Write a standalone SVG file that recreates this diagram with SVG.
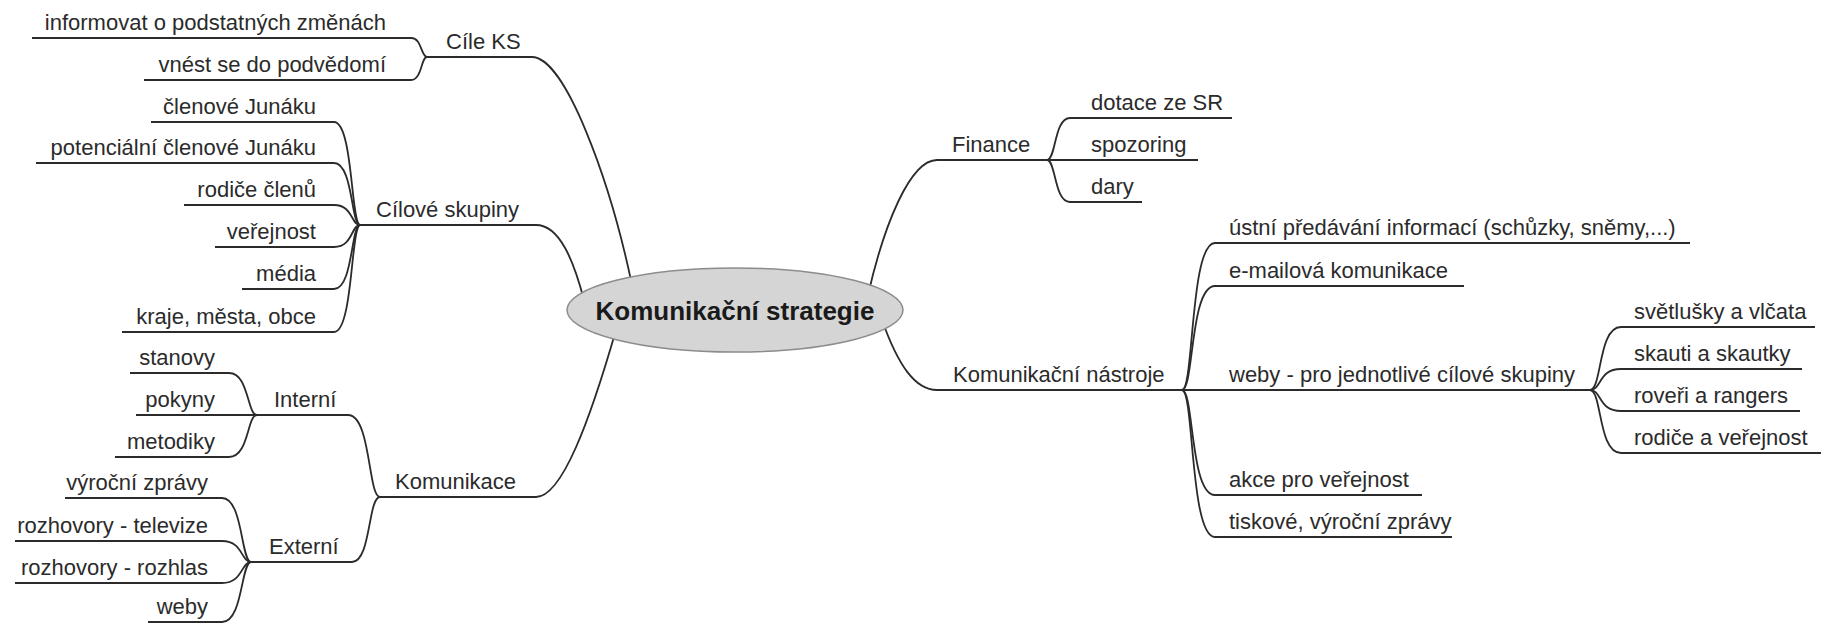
<svg xmlns="http://www.w3.org/2000/svg" width="1827" height="624" viewBox="0 0 1827 624">
  <style>
    .t { font-family: "Liberation Sans", Arial, sans-serif; font-size: 22px; fill: #2b2b2b; }
    .e { text-anchor: end; }
    .u { stroke: #2b2b2b; stroke-width: 2; fill: none; }
    .c { stroke: #2b2b2b; stroke-width: 1.8; fill: none; }
    .root { font-family: "Liberation Sans", Arial, sans-serif; font-size: 26px; font-weight: bold; fill: #1a1a1a; text-anchor: middle; }
  </style>
  <rect width="1827" height="624" fill="#ffffff"/>

  <!-- connectors: each runs from a branch junction out to the start of a child's underline -->
  <g id="connectors">
    <!-- root to main branches -->
    <path class="c" d="M 532 57 C 565 57, 610 180, 632 285"/>
    <path class="c" d="M 536 225 C 560 225, 574 262, 584 300"/>
    <path class="c" d="M 536 497 C 562 497, 590 420, 616 330"/>
    <path class="c" d="M 937 160 C 910 160, 884 225, 868 295"/>
    <path class="c" d="M 937 390 C 915 390, 898 365, 882 320"/>
    <!-- Cíle KS -->
    <path class="c" d="M 427 57 C 421 57, 422 38, 411 38"/>
    <path class="c" d="M 427 57 C 421 57, 422 80, 411 80"/>
    <!-- Cílové skupiny -->
    <path class="c" d="M 360 225 C 351 225, 353 122, 334 122"/>
    <path class="c" d="M 360 225 C 351 225, 353 163, 334 163"/>
    <path class="c" d="M 360 225 C 351 225, 353 205, 334 205"/>
    <path class="c" d="M 360 225 C 351 225, 353 247, 334 247"/>
    <path class="c" d="M 360 225 C 351 225, 353 289, 334 289"/>
    <path class="c" d="M 360 225 C 351 225, 353 332, 334 332"/>
    <!-- Komunikace -->
    <path class="c" d="M 380 497 C 368 497, 371 415, 348 415"/>
    <path class="c" d="M 380 497 C 368 497, 371 562, 352 562"/>
    <!-- Interní -->
    <path class="c" d="M 257 415 C 247 415, 249 373, 229 373"/>
    <path class="c" d="M 257 415 C 247 415, 249 457, 229 457"/>
    <!-- Externí -->
    <path class="c" d="M 251 562 C 241 562, 243 498, 222 498"/>
    <path class="c" d="M 251 562 C 241 562, 243 541, 222 541"/>
    <path class="c" d="M 251 562 C 241 562, 243 583, 222 583"/>
    <path class="c" d="M 251 562 C 241 562, 243 622, 222 622"/>
    <!-- Finance -->
    <path class="c" d="M 1047 160 C 1056 160, 1054 118, 1070 118"/>
    <path class="c" d="M 1047 160 C 1056 160, 1054 202, 1070 202"/>
    <!-- Komunikační nástroje -->
    <path class="c" d="M 1182 390 C 1194 390, 1190 243, 1215 243"/>
    <path class="c" d="M 1182 390 C 1194 390, 1190 286, 1215 286"/>
    <path class="c" d="M 1182 390 C 1194 390, 1190 495, 1215 495"/>
    <path class="c" d="M 1182 390 C 1194 390, 1190 537, 1215 537"/>
    <!-- weby -->
    <path class="c" d="M 1590 390 C 1602 390, 1598 327, 1621 327"/>
    <path class="c" d="M 1590 390 C 1602 390, 1598 369, 1621 369"/>
    <path class="c" d="M 1590 390 C 1602 390, 1598 411, 1621 411"/>
    <path class="c" d="M 1590 390 C 1602 390, 1598 453, 1621 453"/>
  </g>

  <!-- central topic -->
  <g id="root">
    <ellipse cx="735" cy="310" rx="168" ry="42" fill="#d5d5d5" stroke="#8c8c8c" stroke-width="1.5"/>
    <text class="root" x="735" y="320">Komunikační strategie</text>
  </g>

  <!-- left side -->
  <g id="cile-ks">
    <line class="u" x1="427" y1="57" x2="532" y2="57"/>
    <text class="t" x="446" y="49">Cíle KS</text>
  </g>
  <g id="informovat">
    <line class="u" x1="32" y1="38" x2="411" y2="38"/>
    <text class="t e" x="386" y="30">informovat o podstatných změnách</text>
  </g>
  <g id="vnest">
    <line class="u" x1="144" y1="80" x2="411" y2="80"/>
    <text class="t e" x="386" y="72">vnést se do podvědomí</text>
  </g>

  <g id="cilove-skupiny">
    <line class="u" x1="360" y1="225" x2="536" y2="225"/>
    <text class="t" x="376" y="217">Cílové skupiny</text>
  </g>
  <g id="clenove">
    <line class="u" x1="151" y1="122" x2="334" y2="122"/>
    <text class="t e" x="316" y="114">členové Junáku</text>
  </g>
  <g id="potencialni">
    <line class="u" x1="36" y1="163" x2="334" y2="163"/>
    <text class="t e" x="316" y="155">potenciální členové Junáku</text>
  </g>
  <g id="rodice-clenu">
    <line class="u" x1="184" y1="205" x2="334" y2="205"/>
    <text class="t e" x="316" y="197">rodiče členů</text>
  </g>
  <g id="verejnost">
    <line class="u" x1="215" y1="247" x2="334" y2="247"/>
    <text class="t e" x="316" y="239">veřejnost</text>
  </g>
  <g id="media">
    <line class="u" x1="242" y1="289" x2="334" y2="289"/>
    <text class="t e" x="316" y="281">média</text>
  </g>
  <g id="kraje">
    <line class="u" x1="122" y1="332" x2="334" y2="332"/>
    <text class="t e" x="316" y="324">kraje, města, obce</text>
  </g>

  <g id="komunikace">
    <line class="u" x1="380" y1="497" x2="536" y2="497"/>
    <text class="t" x="395" y="489">Komunikace</text>
  </g>
  <g id="interni">
    <line class="u" x1="257" y1="415" x2="348" y2="415"/>
    <text class="t" x="274" y="407">Interní</text>
  </g>
  <g id="stanovy">
    <line class="u" x1="130" y1="373" x2="229" y2="373"/>
    <text class="t e" x="215" y="365">stanovy</text>
  </g>
  <g id="pokyny">
    <line class="u" x1="136" y1="415" x2="257" y2="415"/>
    <text class="t e" x="215" y="407">pokyny</text>
  </g>
  <g id="metodiky">
    <line class="u" x1="115" y1="457" x2="229" y2="457"/>
    <text class="t e" x="215" y="449">metodiky</text>
  </g>
  <g id="externi">
    <line class="u" x1="251" y1="562" x2="352" y2="562"/>
    <text class="t" x="269" y="554">Externí</text>
  </g>
  <g id="vyrocni">
    <line class="u" x1="65" y1="498" x2="222" y2="498"/>
    <text class="t e" x="208" y="490">výroční zprávy</text>
  </g>
  <g id="televize">
    <line class="u" x1="15" y1="541" x2="222" y2="541"/>
    <text class="t e" x="208" y="533">rozhovory - televize</text>
  </g>
  <g id="rozhlas">
    <line class="u" x1="15" y1="583" x2="222" y2="583"/>
    <text class="t e" x="208" y="575">rozhovory - rozhlas</text>
  </g>
  <g id="weby-ext">
    <line class="u" x1="148" y1="622" x2="222" y2="622"/>
    <text class="t e" x="208" y="614">weby</text>
  </g>

  <!-- right side -->
  <g id="finance">
    <line class="u" x1="937" y1="160" x2="1047" y2="160"/>
    <text class="t" x="952" y="152">Finance</text>
  </g>
  <g id="dotace">
    <line class="u" x1="1070" y1="118" x2="1232" y2="118"/>
    <text class="t" x="1091" y="110">dotace ze SR</text>
  </g>
  <g id="spozoring">
    <line class="u" x1="1047" y1="160" x2="1198" y2="160"/>
    <text class="t" x="1091" y="152">spozoring</text>
  </g>
  <g id="dary">
    <line class="u" x1="1070" y1="202" x2="1142" y2="202"/>
    <text class="t" x="1091" y="194">dary</text>
  </g>

  <g id="nastroje">
    <line class="u" x1="937" y1="390" x2="1182" y2="390"/>
    <text class="t" x="953" y="382">Komunikační nástroje</text>
  </g>
  <g id="ustni">
    <line class="u" x1="1215" y1="243" x2="1690" y2="243"/>
    <text class="t" x="1229" y="235">ústní předávání informací (schůzky, sněmy,...)</text>
  </g>
  <g id="email">
    <line class="u" x1="1215" y1="286" x2="1464" y2="286"/>
    <text class="t" x="1229" y="278">e-mailová komunikace</text>
  </g>
  <g id="weby-skupiny">
    <line class="u" x1="1182" y1="390" x2="1590" y2="390"/>
    <text class="t" x="1229" y="382">weby - pro jednotlivé cílové skupiny</text>
  </g>
  <g id="akce">
    <line class="u" x1="1215" y1="495" x2="1422" y2="495"/>
    <text class="t" x="1229" y="487">akce pro veřejnost</text>
  </g>
  <g id="tiskove">
    <line class="u" x1="1215" y1="537" x2="1452" y2="537"/>
    <text class="t" x="1229" y="529">tiskové, výroční zprávy</text>
  </g>
  <g id="svetlusky">
    <line class="u" x1="1621" y1="327" x2="1815" y2="327"/>
    <text class="t" x="1634" y="319">světlušky a vlčata</text>
  </g>
  <g id="skauti">
    <line class="u" x1="1621" y1="369" x2="1802" y2="369"/>
    <text class="t" x="1634" y="361">skauti a skautky</text>
  </g>
  <g id="roveri">
    <line class="u" x1="1621" y1="411" x2="1800" y2="411"/>
    <text class="t" x="1634" y="403">roveři a rangers</text>
  </g>
  <g id="rodice-verejnost">
    <line class="u" x1="1621" y1="453" x2="1821" y2="453"/>
    <text class="t" x="1634" y="445">rodiče a veřejnost</text>
  </g>
</svg>
